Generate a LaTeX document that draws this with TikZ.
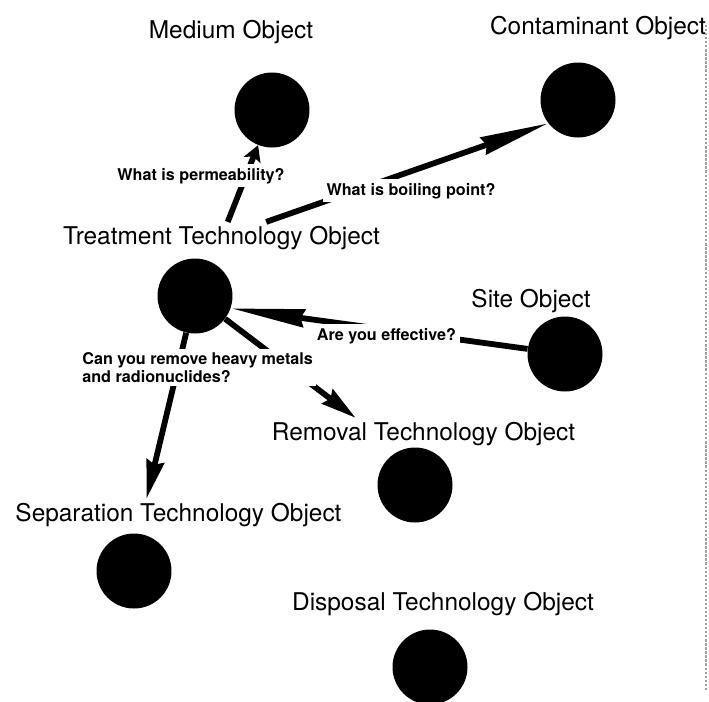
\documentclass[tikz,border=0pt]{standalone}
\usepackage{fontspec}
\setmainfont{TeX Gyre Heros}
\usetikzlibrary{arrows.meta}
\tikzset{
  obj/.style={circle, fill=black, inner sep=0pt, minimum size=1.5cm},
  objname/.style={font=\fontsize{13.9}{16}\selectfont, inner sep=2pt, anchor=base},
  ask/.style={font=\fontsize{9.2}{10.4}\selectfont\bfseries, fill=white, inner sep=2pt},
  wedge/.style={line width=3.3pt, -{Stealth[length=#1, width=10pt, inset=2pt]}}
}
\begin{document}
\begin{tikzpicture}[x=0.02cm, y=-0.02cm]
  \useasboundingbox (0,0) rectangle (709,701);
  \foreach \n/\cx/\cy in {medium/272/110, contam/578/100, treat/195/296, site/565/354,
                          removal/415/485, separation/134/571, disposal/430/667}
    \node[obj] (\n) at (\cx,\cy) {};
  \foreach \n/\cx/\cy/\t in {medT/231/38/Medium Object, contT/598/34/Contaminant Object,
                             treatT/221.5/244/Treatment Technology Object, siteT/531/307/Site Object,
                             remT/423.5/440/Removal Technology Object, sepT/178.5/521/Separation Technology Object,
                             dispT/443/610/Disposal Technology Object}
    \node[objname] (\n) at (\cx,\cy) {\t};
  % messages
  \draw[wedge=9pt] (treatT) -- (medium);
  \draw[wedge=39pt] (treatT) -- (contam.218);
  \draw[wedge=42pt] (site) -- (treat.-19);
  \draw[wedge=20pt] (treat) -- (remT.167);
  \draw[wedge=22pt] (treat) -- (sepT.154);
  \node[ask, anchor=base] (qperm) at (201,180) {What is permeability?};
  \node[ask, anchor=base] (qboil) at (411,195) {What is boiling point?};
  \node[ask, anchor=base] (qeff) at (386.5,340) {Are you effective?};
  \node[ask, anchor=north west, align=left] (qremove) at (78.5,348.5) {Can you remove heavy metals\\and radionuclides?};
  \draw[gray!75, line width=1.3pt, densely dotted] (706,25) -- (706,690);
\end{tikzpicture}
\end{document}
